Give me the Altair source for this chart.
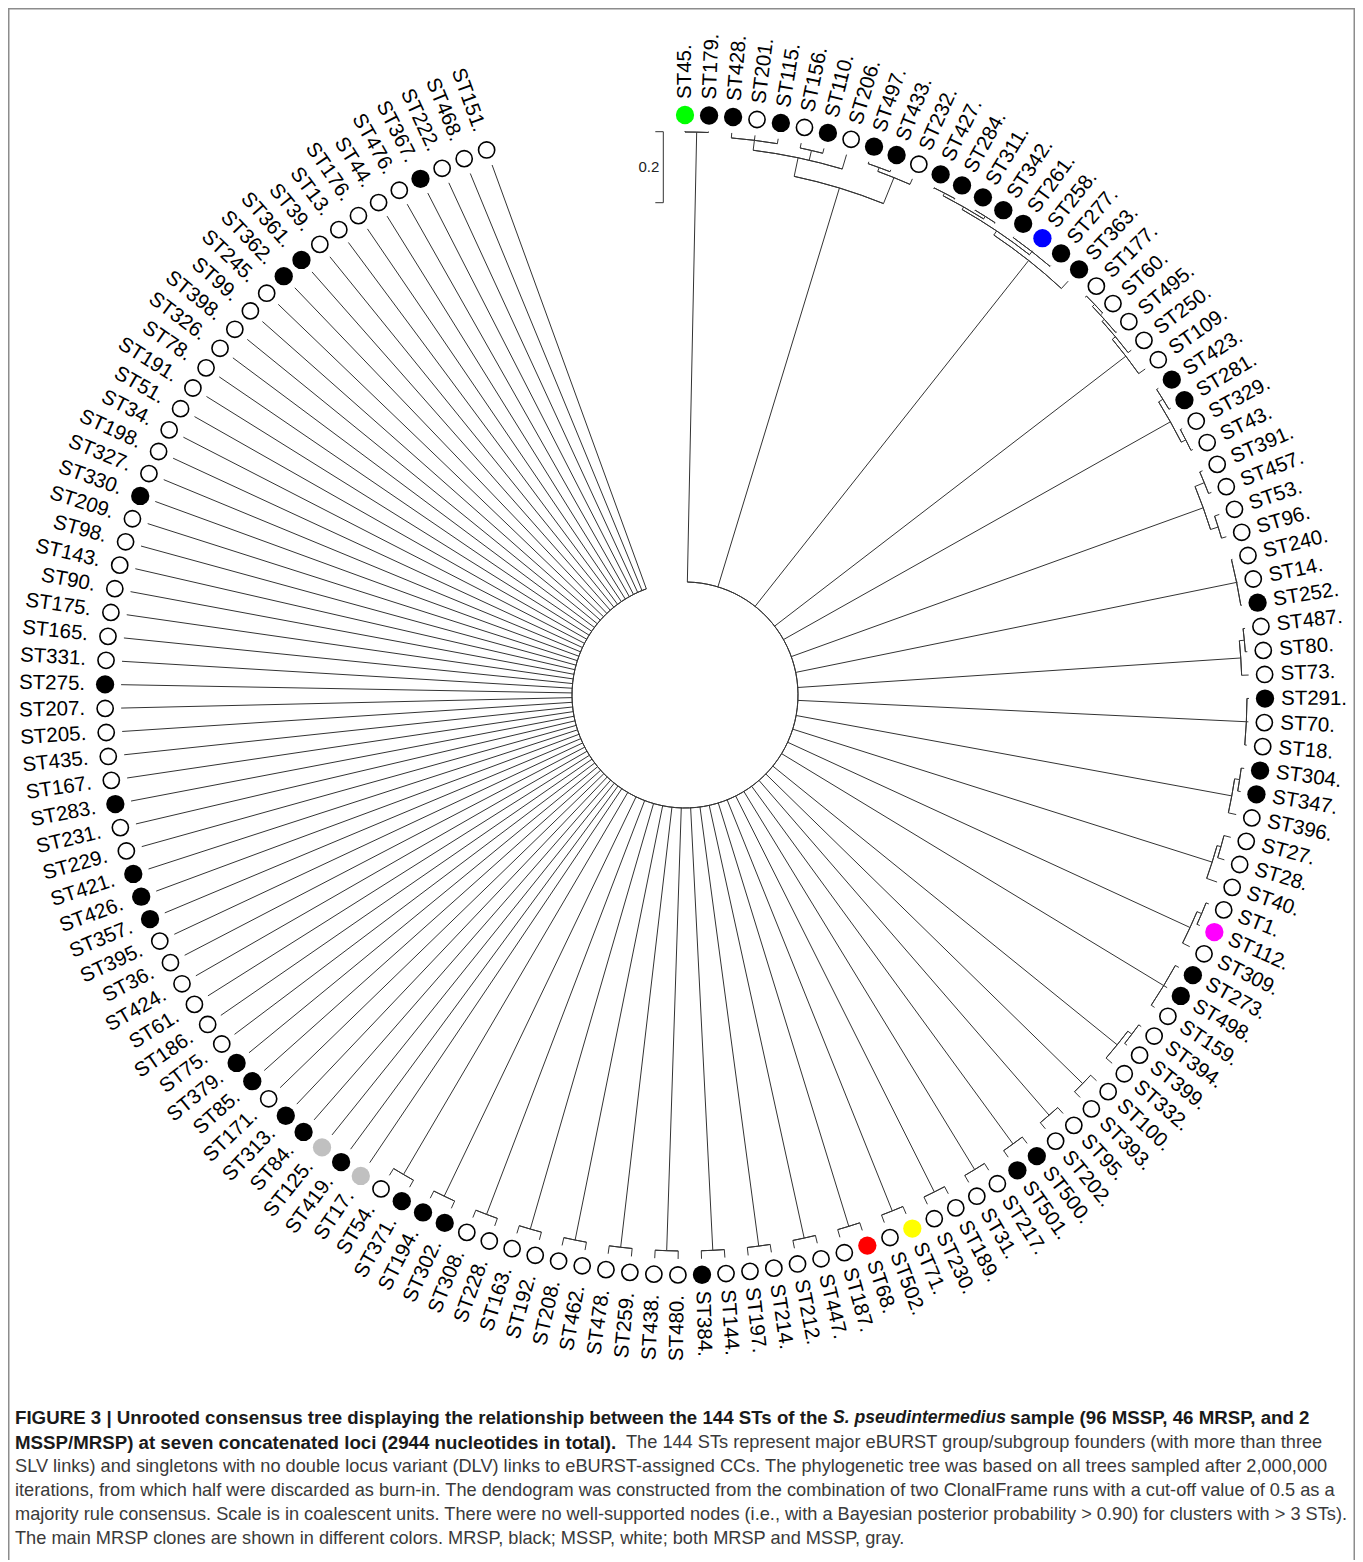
import altair as alt
import numpy as np
import pandas as pd

# ---------------- data ----------------
st_names = [
    "ST45", "ST179", "ST428", "ST201", "ST115", "ST156", "ST110", "ST206", "ST497", "ST433",
    "ST232", "ST427", "ST284", "ST311", "ST342", "ST261", "ST258", "ST277", "ST363", "ST177",
    "ST60", "ST495", "ST250", "ST109", "ST423", "ST281", "ST329", "ST43", "ST391", "ST457",
    "ST53", "ST96", "ST240", "ST14", "ST252", "ST487", "ST80", "ST73", "ST291", "ST70",
    "ST18", "ST304", "ST347", "ST396", "ST27", "ST28", "ST40", "ST1", "ST112", "ST309",
    "ST273", "ST498", "ST159", "ST394", "ST399", "ST332", "ST100", "ST393", "ST95", "ST202",
    "ST500", "ST501", "ST217", "ST31", "ST189", "ST230", "ST71", "ST502", "ST68", "ST187",
    "ST447", "ST212", "ST214", "ST197", "ST144", "ST384", "ST480", "ST438", "ST259", "ST478",
    "ST462", "ST208", "ST192", "ST163", "ST228", "ST308", "ST302", "ST194", "ST371", "ST54",
    "ST17", "ST419", "ST125", "ST84", "ST313", "ST171", "ST85", "ST379", "ST75", "ST186",
    "ST61", "ST424", "ST36", "ST395", "ST357", "ST426", "ST421", "ST229", "ST231", "ST283",
    "ST167", "ST435", "ST205", "ST207", "ST275", "ST331", "ST165", "ST175", "ST90", "ST143",
    "ST98", "ST209", "ST330", "ST327", "ST198", "ST34", "ST51", "ST191", "ST78", "ST326",
    "ST398", "ST99", "ST245", "ST362", "ST361", "ST39", "ST13", "ST176", "ST44", "ST476",
    "ST367", "ST222", "ST468", "ST151",
]
# R = MRSP, S = MSSP, B = both MRSP and MSSP
st_status = list(
    "RRRSRSRSRR" "SRRRRRRRRS" "SSSSRRSSSS" "SSSSRSSSRS" "SRRSSSSSRS"
    "RRSSSSSSSS" "RRSSSSRSRS" "SSSSSRSSSS" "SSSSSSRRRS" "BRBRRSRRSS"
    "SSSSRRRSSR" "SSSSRSSSSS" "SSRSSSSSSS" "SSSRRSSSSS" "RSSS"
)
status_names = {"R": "MRSP", "S": "MSSP", "B": "MRSP and MSSP"}
main_clones = ["ST45", "ST258", "ST112", "ST71", "ST68"]


def N(r, *kids):
    return (r, list(kids))


pair_clades = [
    ("ST100", "ST393"), ("ST95", "ST202"), ("ST500", "ST501"), ("ST217", "ST31"),
    ("ST189", "ST230"), ("ST71", "ST502"), ("ST68", "ST187"), ("ST447", "ST212"),
    ("ST214", "ST197"), ("ST144", "ST384"), ("ST480", "ST438"), ("ST259", "ST478"),
    ("ST462", "ST208"), ("ST192", "ST163"), ("ST228", "ST308"), ("ST302", "ST194"),
    ("ST371", "ST54"),
]
tree_root = [
    N(563, "ST45", "ST179"),
    N(530, N(549, N(559, "ST428", "ST201", "ST115"), N(559, "ST156", "ST110"), "ST206"),
        N(558, N(562, "ST497", "ST433"), "ST232")),
    N(554, N(559, N(562, N(565, "ST427", "ST284"), N(565, "ST311", "ST342")),
                N(563, "ST261", "ST258", "ST277")), "ST363"),
    N(556, N(560, N(563, N(566, "ST177", "ST60"), "ST495"), "ST250"), "ST109"),
    N(557, N(562, "ST423", "ST281"), N(562, "ST329", "ST43")),
    N(551, N(561, "ST391", "ST457"), N(559, "ST53", "ST96")),
    N(563, "ST240", "ST14", "ST252"),
    N(557, N(562, "ST487", "ST80"), "ST73"),
    N(562, "ST291", "ST70", "ST18"),
    N(556, N(561, "ST304", "ST347"), "ST396"),
    N(553, N(557, "ST27", "ST28"), "ST40"),
    N(556, N(561, "ST1", "ST112"), "ST309"),
    N(560, "ST273", "ST498", "ST159"),
    N(556, N(561, "ST394", "ST399"), "ST332"),
] + [N(556, a, b) for a, b in pair_clades] + st_names[90:]

scale_bar_value = 0.2

caption_lines = [
    [("FIGURE 3 | Unrooted consensus tree displaying the relationship between the 144 STs of the", "b"),
     ("S. pseudintermedius", "bi"),
     ("sample (96 MSSP, 46 MRSP, and 2", "b")],
    [("MSSP/MRSP) at seven concatenated loci (2944 nucleotides in total).", "b"),
     ("The 144 STs represent major eBURST group/subgroup founders (with more than three", "r")],
    [("SLV links) and singletons with no double locus variant (DLV) links to eBURST-assigned CCs. "
      "The phylogenetic tree was based on all trees sampled after 2,000,000", "r")],
    [("iterations, from which half were discarded as burn-in. The dendogram was constructed from "
      "the combination of two ClonalFrame runs with a cut-off value of 0.5 as a", "r")],
    [("majority rule consensus. Scale is in coalescent units. There were no well-supported nodes "
      "(i.e., with a Bayesian posterior probability > 0.90) for clusters with > 3 STs).", "r")],
    [("The main MRSP clones are shown in different colors. MRSP, black; MSSP, white; both MRSP and MSSP, gray.", "r")],
]

# ---------------- layout ----------------
W, H = 1347, 1552
CX, CY = 677, 687            # centre of the tree inside the plot area (px)
ROOT_R, TIP_R, LEAF_R = 113, 564, 580
LAB_R_RIGHT, LAB_R_LEFT = 596, 600
SPAN = 340.0
STEP = SPAN / (len(st_names) - 1)
PX_PER_UNIT = 355

pos = {n: i * STEP for i, n in enumerate(st_names)}
radial, arcs = [], []


def place(node, parent_r):
    if isinstance(node, str):
        a = pos[node]
        radial.append((a, parent_r, TIP_R))
        return a
    r, kids = node
    angs = [place(k, r) for k in kids]
    arcs.append((angs[0], angs[-1], r))
    a = (angs[0] + angs[-1]) / 2
    radial.append((a, parent_r, r))
    return a


root_angs = [place(k, ROOT_R) for k in tree_root]
arcs.append((root_angs[0], root_angs[-1], ROOT_R))

rad = pd.DataFrame(radial, columns=["a", "r1", "r2"])
ra = np.deg2rad(rad["a"])
rad["x"] = rad["r1"] * np.sin(ra)
rad["y"] = rad["r1"] * np.cos(ra)
rad["x2"] = rad["r2"] * np.sin(ra)
rad["y2"] = rad["r2"] * np.cos(ra)

arc_df = pd.DataFrame(arcs, columns=["a1", "a2", "r"])
arc_df["t1"] = np.deg2rad(arc_df["a1"])
arc_df["t2"] = np.deg2rad(arc_df["a2"])

leaves = pd.DataFrame({"name": st_names, "code": st_status})
leaves["cat"] = [n if n in main_clones else status_names[c] for n, c in zip(leaves["name"], leaves["code"])]
leaves["label"] = leaves["name"] + "."
leaves["ang"] = [pos[n] for n in st_names]
la = np.deg2rad(leaves["ang"])
leaves["x"] = LEAF_R * np.sin(la)
leaves["y"] = LEAF_R * np.cos(la)
right = leaves["ang"] < 180
leaves["lr"] = np.where(right, LAB_R_RIGHT, LAB_R_LEFT)
leaves["lx"] = leaves["lr"] * np.sin(la)
leaves["ly"] = leaves["lr"] * np.cos(la)
leaves["tang"] = np.where(right, (leaves["ang"] - 90) % 360, (leaves["ang"] + 90) % 360)

XS = alt.Scale(domain=[-CX, W - CX], nice=False, zero=False)
YS = alt.Scale(domain=[CY - H, CY], nice=False, zero=False)
LINE = "#333333"

branches = alt.Chart(rad).mark_rule(color=LINE, strokeWidth=1).encode(
    x=alt.X("x:Q", scale=XS, axis=None),
    y=alt.Y("y:Q", scale=YS, axis=None),
    x2="x2:Q", y2="y2:Q",
)
arc_layer = alt.Chart(arc_df).mark_arc(filled=False, color=LINE, strokeWidth=1).encode(
    theta=alt.Theta("t1:Q", scale=None),
    theta2="t2:Q",
    radius=alt.Radius("r:Q", scale=None),
    radius2="r:Q",
    x=alt.XDatum(0, type="quantitative", scale=XS, axis=None),
    y=alt.YDatum(0, type="quantitative", scale=YS, axis=None),
)

CS = alt.Scale(
    domain=["MRSP", "MRSP and MSSP", "ST45", "ST258", "ST112", "ST71", "ST68"],
    range=["#000000", "#c0c0c0", "#00ff00", "#0000ff", "#ff00ff", "#ffff00", "#ff0000"],
)
white_pts = alt.Chart(leaves[leaves["cat"] == "MSSP"]).mark_point(
    shape="circle", filled=True, fill="white", stroke="black", strokeWidth=1.6, size=262, opacity=1
).encode(x=alt.X("x:Q", scale=XS, axis=None), y=alt.Y("y:Q", scale=YS, axis=None))
solid_pts = alt.Chart(leaves[leaves["cat"] != "MSSP"]).mark_circle(size=335, opacity=1).encode(
    x=alt.X("x:Q", scale=XS, axis=None), y=alt.Y("y:Q", scale=YS, axis=None),
    color=alt.Color("cat:N", scale=CS, legend=None),
)

LABEL_FONT = dict(font="Liberation Sans", fontSize=20.5, color="black", baseline="middle")
lab_right = alt.Chart(leaves[right]).mark_text(align="left", **LABEL_FONT).encode(
    x=alt.X("lx:Q", scale=XS, axis=None), y=alt.Y("ly:Q", scale=YS, axis=None),
    angle=alt.Angle("tang:Q", scale=None), text="label:N",
)
lab_left = alt.Chart(leaves[~right]).mark_text(align="right", **LABEL_FONT).encode(
    x=alt.X("lx:Q", scale=XS, axis=None), y=alt.Y("ly:Q", scale=YS, axis=None),
    angle=alt.Angle("tang:Q", scale=None), text="label:N",
)

# scale bar
one = pd.DataFrame({"v": [scale_bar_value]})
bar_len = scale_bar_value * PX_PER_UNIT
bx, by0 = 655.3, 123.7
sb_main = alt.Chart(one).mark_rule(color=LINE, strokeWidth=1).encode(
    x=alt.value(bx), y=alt.value(by0), y2=alt.value(by0 + bar_len))
sb_top = alt.Chart(one).mark_rule(color=LINE, strokeWidth=1).encode(
    x=alt.value(bx - 8), x2=alt.value(bx), y=alt.value(by0))
sb_bot = alt.Chart(one).mark_rule(color=LINE, strokeWidth=1).encode(
    x=alt.value(bx - 8), x2=alt.value(bx), y=alt.value(by0 + bar_len))
sb_text = alt.Chart(one).mark_text(align="right", baseline="middle", font="Liberation Sans",
                                   fontSize=15, color="#222222").encode(
    x=alt.value(bx - 4), y=alt.value(by0 + bar_len / 2), text=alt.Text("v:Q", format=".1f"))

# frame (left, top, right)
BORDER = "#8c8c8c"
fr_l = alt.Chart(one).mark_rule(color=BORDER, strokeWidth=1.5).encode(
    x=alt.value(0.75), y=alt.value(0), y2=alt.value(H))
fr_t = alt.Chart(one).mark_rule(color=BORDER, strokeWidth=1.5).encode(
    x=alt.value(0), x2=alt.value(W), y=alt.value(0.75))
fr_r = alt.Chart(one).mark_rule(color=BORDER, strokeWidth=1.5).encode(
    x=alt.value(W - 0.75), y=alt.value(0), y2=alt.value(H))

# caption
cap_y = [1410, 1435, 1459, 1483, 1507, 1531]
cap_x = [[7, 825, 1002], [7, 618], [7], [7], [7], [7]]
styles = {
    "b": dict(fontWeight="bold", fontSize=18.7, color="#1a1a1a"),
    "bi": dict(fontWeight="bold", fontStyle="italic", fontSize=17.6, color="#1a1a1a"),
    "r": dict(fontWeight="normal", fontSize=18.2, color="#3a3a3a"),
}
cap_layers = []
for li, segs in enumerate(caption_lines):
    for si, (txt, st) in enumerate(segs):
        cap_layers.append(
            alt.Chart(pd.DataFrame({"t": [txt]})).mark_text(
                align="left", baseline="middle", font="Liberation Sans", **styles[st]
            ).encode(x=alt.value(cap_x[li][si]), y=alt.value(cap_y[li]), text="t:N")
        )

chart = alt.layer(
    arc_layer, branches, white_pts, solid_pts, lab_right, lab_left,
    sb_main, sb_top, sb_bot, sb_text, fr_l, fr_t, fr_r, *cap_layers
).properties(
    width=W, height=H, padding=0, autosize=alt.AutoSizeParams(type="none")
).configure_view(strokeWidth=0)

chart.save("out.html", embed_options={"renderer": "svg", "actions": False})
